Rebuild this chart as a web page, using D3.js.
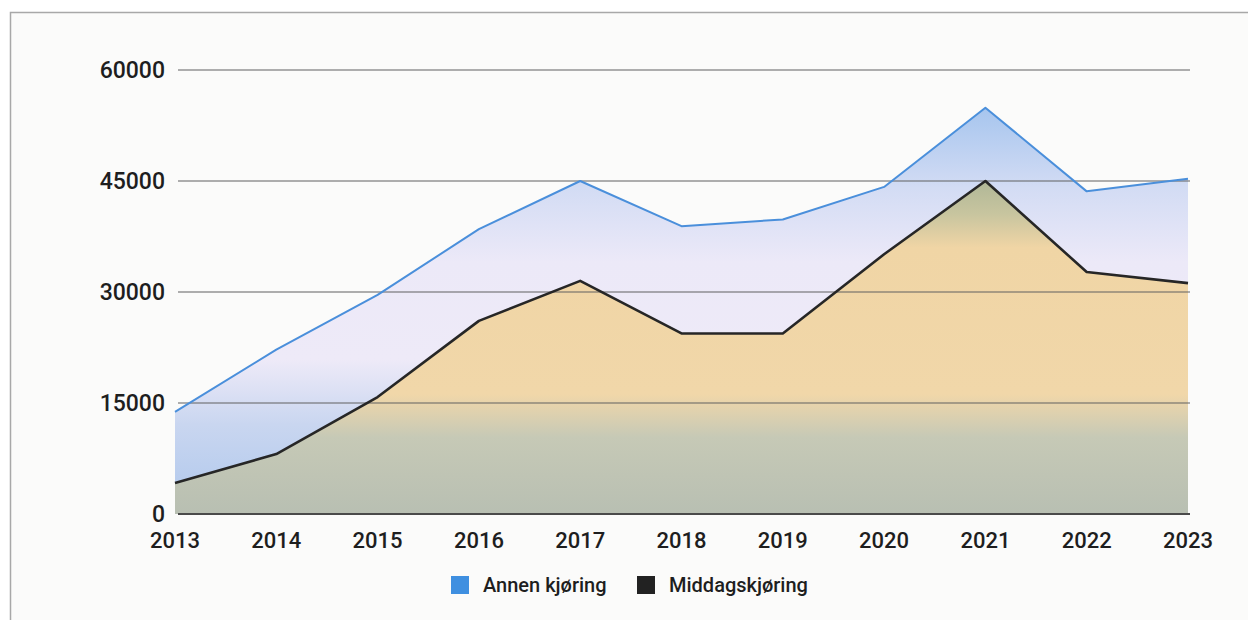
<!DOCTYPE html>
<html>
<head>
<meta charset="utf-8">
<script src="https://cdn.jsdelivr.net/npm/d3@7"></script>
<style>
  body { margin: 0; background: #fff; }
  svg { display: block; font-family: Roboto, "Noto Sans", sans-serif; }
</style>
</head>
<body>
<svg id="chart" width="1248" height="620"></svg>
<script>
'use strict'
// chart data
var years = ['2013','2014','2015','2016','2017','2018','2019','2020','2021','2022','2023'];
var annenKjoring = [13800, 22200, 29600, 38500, 45000, 38900, 39800, 44200, 54900, 43600, 45300];
var middagsKjoring = [4200, 8100, 15800, 26100, 31500, 24400, 24400, 35100, 45000, 32700, 31200];
var yTicks = [0, 15000, 30000, 45000, 60000];
var seriesNames = ['Annen kjøring', 'Middagskjøring'];

var svg = d3.select('#chart');
var margin = {left: 175, right: 60, top: 70, bottom: 106};
var W = 1248, H = 620;

// paper frame
svg.append('rect').attr('x', 0).attr('y', 0).attr('width', W).attr('height', H).attr('fill', '#ffffff');
svg.append('rect')
	.attr('x', 10.5).attr('y', 12.5).attr('width', W).attr('height', H)
	.attr('fill', '#fbfbfa').attr('stroke', '#a8a8a8').attr('stroke-width', 1.5);

var x = d3.scalePoint().domain(years).range([margin.left, W - margin.right]);
var y = d3.scaleLinear().domain([0, 60000]).range([H - margin.bottom, margin.top]);

// gradients for both areas
var defs = svg.append('defs');
var gBlue = defs.append('linearGradient').attr('id', 'gradBlue')
	.attr('gradientUnits', 'userSpaceOnUse')
	.attr('x1', 0).attr('x2', 0).attr('y1', y(55000)).attr('y2', y(0));
[[0, '#a6c5ee'], [0.2, '#d3dcf4'], [0.38, '#ece9f8'], [0.62, '#eeeaf8'], [0.78, '#c9d6f0'], [1, '#aec7ec']]
	.forEach(function(s){ gBlue.append('stop').attr('offset', s[0]).attr('stop-color', s[1]); });

var gTan = defs.append('linearGradient').attr('id', 'gradTan')
	.attr('gradientUnits', 'userSpaceOnUse')
	.attr('x1', 0).attr('x2', 0).attr('y1', y(45000)).attr('y2', y(0));
[[0, '#b0b797'], [0.1, '#c8c59f'], [0.2, '#f0d5a5'], [0.64, '#f1d7a9'], [0.77, '#c6c9b6'], [1, '#b8bfb2']]
	.forEach(function(s){ gTan.append('stop').attr('offset', s[0]).attr('stop-color', s[1]); });

function areaOf(vals){
	return d3.area()
		.x(function(d, i){ return x(years[i]); })
		.y0(y(0))
		.y1(function(d){ return y(d); })(vals);
}
function lineOf(vals){
	return d3.line()
		.x(function(d, i){ return x(years[i]); })
		.y(function(d){ return y(d); })(vals);
}

svg.append('path').attr('d', areaOf(annenKjoring)).attr('fill', 'url(#gradBlue)');
svg.append('path').attr('d', areaOf(middagsKjoring)).attr('fill', 'url(#gradTan)');

// grid lines drawn over the areas like in the scan
svg.append('g').selectAll('line').data(yTicks).enter().append('line')
	.attr('x1', margin.left + 3).attr('x2', W - margin.right + 2)
	.attr('y1', function(d){ return y(d); }).attr('y2', function(d){ return y(d); })
	.attr('stroke', function(d){ return d === 0 ? '#4a4a4a' : '#606060'; })
	.attr('stroke-width', function(d){ return d === 0 ? 2 : 1.2; });

svg.append('path').attr('d', lineOf(annenKjoring))
	.attr('fill', 'none').attr('stroke', '#4a8fdb').attr('stroke-width', 2).attr('stroke-linejoin', 'round');
svg.append('path').attr('d', lineOf(middagsKjoring))
	.attr('fill', 'none').attr('stroke', '#262626').attr('stroke-width', 2.6).attr('stroke-linejoin', 'round');

// y labels
svg.append('g').selectAll('text').data(yTicks).enter().append('text')
	.attr('x', 165).attr('y', function(d){ return y(d); }).attr('dy', '0.36em')
	.attr('text-anchor', 'end').attr('font-size', 23).attr('font-weight', 500).attr('fill', '#1e1e1e')
	.text(function(d){ return d; });

// x labels
svg.append('g').selectAll('text').data(years).enter().append('text')
	.attr('x', function(d){ return x(d); }).attr('y', 548)
	.attr('text-anchor', 'middle').attr('font-size', 22).attr('font-weight', 500).attr('fill', '#1e1e1e')
	.text(function(d){ return d; });

// legend
var legend = svg.append('g');
var legendPos = [451, 637];
var legendColor = ['#3f8fe0', '#222'];
seriesNames.forEach(function(name, i){
	legend.append('rect').attr('x', legendPos[i]).attr('y', 576).attr('width', 18).attr('height', 18)
		.attr('fill', legendColor[i]);
	legend.append('text').attr('x', legendPos[i] + 32).attr('y', 592)
		.attr('font-size', 20).attr('font-weight', 500).attr('fill', '#1e1e1e').text(name);
});
</script>
</body>
</html>
